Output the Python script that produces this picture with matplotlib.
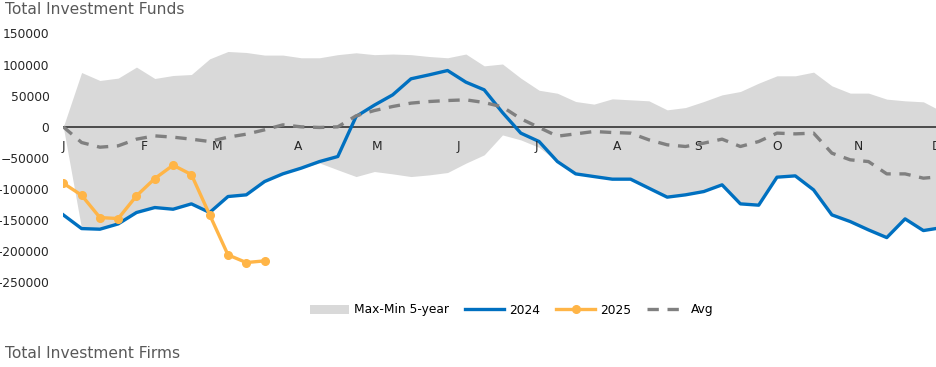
import matplotlib.pyplot as plt
import numpy as np

# weekly cumulative flows, week 0 = start of January
upper = [0, 87300, 74500, 78300, 96000, 77700, 82500, 84100, 109300, 121100,
         119500, 115300, 115300, 111000, 111000, 116000, 119000, 116000, 117000, 116000,
         113000, 111000, 117000, 98000, 101000, 78300, 58800, 54000, 40700, 36500,
         45000, 43400, 41800, 27300, 31000, 40700, 51400, 56800, 70200, 82000,
         82000, 87900, 65900, 54200, 54200, 44500, 41800, 40200, 25000]
lower = [0, -163500, -164500, -156000, -137700, -129700, -132400, -123800, -137700, -112000,
         -109300, -87900, -75500, -66400, -58000, -69100, -79900, -71800, -75600, -79900,
         -77200, -73400, -58400, -45000, -13000, -21000, -33000, -55800, -75600, -79900,
         -84100, -84100, -98600, -113000, -109300, -104000, -93200, -123800, -125900, -80900,
         -78800, -101300, -141500, -152200, -165600, -178000, -147900, -166700, -162000]
y2024 = [-141500, -163500, -164500, -156000, -137700, -129700, -132400, -123800, -137700, -112000,
         -109300, -87900, -75500, -66400, -55800, -47700, 16600, 34900, 51400, 77200,
         83600, 90500, 71800, 59500, 23000, -10100, -23600, -55800, -75600, -79900,
         -84100, -84100, -98600, -113000, -109300, -104000, -93200, -123800, -125900, -80900,
         -78800, -101300, -141500, -152200, -165600, -178000, -147900, -166700, -162000]
y2025 = [-90600, -109900, -145800, -147400, -110900, -83100, -61600, -76700, -141500, -205800,
         -218100, -215400]
avg = [0, -25200, -32700, -30500, -19800, -14500, -16600, -19800, -23600, -16600,
       -11800, -4800, 3200, 0, -1000, 0, 17700, 26200, 32700, 38100,
       40700, 42300, 43400, 39100, 32000, 13000, -1000, -15000, -11300, -7500,
       -9100, -10100, -20900, -28900, -31600, -26200, -19800, -31600, -23600, -10100,
       -11300, -10100, -42300, -53000, -55800, -75600, -75600, -82500, -80000]

months = ["J", "F", "M", "A", "M", "J", "J", "A", "S", "O", "N", "D"]
month_start_day = [0, 31, 59, 90, 120, 151, 181, 212, 243, 273, 304, 334]

weeks = np.arange(len(upper))
weeks25 = np.arange(len(y2025))

fig = plt.figure(figsize=(9.36, 3.67), dpi=100)
ax = fig.add_axes([63.3/936, 1-282.4/367, (936-63.3)/936, (282.4-33.5)/367])
ax.set_xlim(0, 47.69)
ax.set_ylim(-250000, 150000)

ax.fill_between(weeks, lower, upper, color="#D9D9D9", lw=0, label="Max-Min 5-year", zorder=1)
ax.axhline(0, color="#404040", lw=1.3, zorder=2)
ax.plot(weeks, y2024, color="#0070C0", lw=2.4, label="2024", zorder=3)
ax.plot(weeks25, y2025, color="#FFB547", lw=2.4, marker="o", ms=5.5, label="2025", zorder=4)
ax.plot(weeks, avg, color="#808080", lw=2.4, ls="--", dashes=(3.4, 2.6), label="Avg", zorder=5)

ax.set_yticks(np.arange(-250000, 150001, 50000))
ax.set_xticks([])
ax.tick_params(axis="y", length=0, pad=10, labelsize=8.8, labelcolor="#262626")
for s in ax.spines.values():
    s.set_visible(False)

for m, d in zip(months, month_start_day):
    ax.text(d/7, -32000, m, ha="center", va="center", fontsize=8.8, color="#262626", clip_on=False)

fig.text(5/936, 1-9.5/367, "Total Investment Funds", fontsize=11.2, color="#595959", va="center")
fig.text(5/936, 1-354/367, "Total Investment Firms", fontsize=11.2, color="#595959", va="center")

h, l = ax.get_legend_handles_labels()
fig.legend(h, l, loc="center", bbox_to_anchor=(512/936, 1-310/367), ncol=4, frameon=False,
           fontsize=8.8, handlelength=3.2, columnspacing=1.3, handletextpad=0.4)

plt.savefig("out.png", dpi=100)
